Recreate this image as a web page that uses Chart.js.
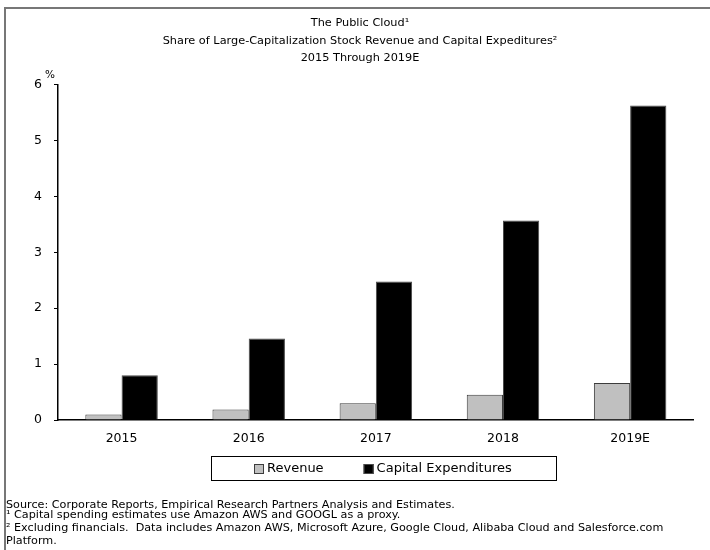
<!DOCTYPE html>
<html>
<head>
<meta charset="utf-8">
<script src="https://cdn.jsdelivr.net/npm/chart.js@4.4.1/dist/chart.umd.min.js"></script>
<style>
  html, body { margin: 0; padding: 0; background: #fff; }
  #wrap { position: relative; width: 710px; height: 550px; overflow: hidden; }
  #frame { position: absolute; left: 4px; top: 7px; right: 0; bottom: 0;
           border-top: 2px solid #777; border-left: 2px solid #777; }
  canvas { position: absolute; left: 0; top: 0; }
  .note { position: absolute; left: 6px; color: #000; line-height: 13px; white-space: nowrap;
          font: 11.2px "DejaVu Sans", sans-serif; }
</style>
</head>
<body>
<div id="wrap">
  <div id="frame"></div>
  <canvas id="chart" width="710" height="550"></canvas>
  <div class="note" style="top:498px">Source: Corporate Reports, Empirical Research Partners Analysis and Estimates.</div>
  <div class="note" style="top:508px">¹ Capital spending estimates use Amazon AWS and GOOGL as a proxy.</div>
  <div class="note" style="top:521px">² Excluding financials.&nbsp; Data includes Amazon AWS, Microsoft Azure, Google Cloud, Alibaba Cloud and Salesforce.com</div>
  <div class="note" style="top:534px">Platform.</div>
</div>
<script>
// Categories and series (percent of large-cap stock totals)
const years = ['2015', '2016', '2017', '2018', '2019E'];
const revenue = [0.10, 0.19, 0.30, 0.45, 0.66];
const capitalExpenditures = [0.80, 1.46, 2.48, 3.57, 5.63];
const seriesNames = ['Revenue', 'Capital Expenditures'];

// Heading text
const titleLines = [
  'The Public Cloud¹',
  'Share of Large-Capitalization Stock Revenue and Capital Expeditures²',
  '2015 Through 2019E'
];
const unitLabel = '%';

const FONT = '"DejaVu Sans", sans-serif';

// Draws the three-line heading and the unit label above the value axis
const headingPlugin = {
  id: 'heading',
  afterDraw(chart) {
    const ctx = chart.ctx;
    ctx.save();
    ctx.fillStyle = '#000';
    ctx.textAlign = 'center';
    ctx.textBaseline = 'middle';
    ctx.font = '11.3px ' + FONT;
    titleLines.forEach((line, i) => ctx.fillText(line, 360, 23.5 + i * 17.5));
    ctx.font = '10.5px ' + FONT;
    ctx.fillText(unitLabel, 50, 75);
    ctx.restore();
  }
};

// Boxed legend under the category axis
const boxedLegend = {
  id: 'boxedLegend',
  afterDraw(chart) {
    const ctx = chart.ctx;
    const box = { left: 211, top: 456, right: 556, bottom: 480 };
    ctx.save();
    ctx.strokeStyle = '#000';
    ctx.lineWidth = 1;
    ctx.strokeRect(box.left + 0.5, box.top + 0.5, box.right - box.left, box.bottom - box.top);
    ctx.font = '13px ' + FONT;
    ctx.textBaseline = 'middle';
    ctx.textAlign = 'left';
    const sq = 10, textGap = 3, itemGap = 40;
    const items = chart.data.datasets.map(ds => ({
      label: ds.label, fill: ds.backgroundColor, stroke: ds.borderColor,
      w: sq + textGap + ctx.measureText(ds.label).width
    }));
    const total = items.reduce((s, it) => s + it.w, 0) + itemGap * (items.length - 1);
    let x = Math.round((box.left + box.right) / 2 - total / 2) - 1;
    const cy = (box.top + box.bottom) / 2 + 1;
    items.forEach(it => {
      ctx.fillStyle = it.fill;
      ctx.fillRect(x, cy - sq / 2, sq, sq);
      ctx.strokeStyle = it.stroke;
      ctx.strokeRect(x + 0.5, cy - sq / 2 + 0.5, sq - 1, sq - 1);
      ctx.fillStyle = '#000';
      ctx.fillText(it.label, x + sq + textGap, cy);
      x += it.w + itemGap;
    });
    ctx.restore();
  }
};

new Chart(document.getElementById('chart'), {
  type: 'bar',
  data: {
    labels: years,
    datasets: [
      { label: seriesNames[0], data: revenue, backgroundColor: '#c0c0c0',
        borderColor: '#3c3c3c', borderWidth: 1 },
      { label: seriesNames[1], data: capitalExpenditures, backgroundColor: '#000000',
        borderColor: '#4a4a4a', borderWidth: 1 }
    ]
  },
  options: {
    responsive: false,
    animation: false,
    events: [],
    layout: { padding: { left: 0, right: 16.3, top: 84.7, bottom: 100 } },
    datasets: { bar: { categoryPercentage: 0.57, barPercentage: 1.0 } },
    plugins: {
      legend: { display: false },
      title: { display: false },
      tooltip: { enabled: false }
    },
    scales: {
      x: {
        grid: { display: false, drawTicks: false },
        border: { display: true, color: '#000', width: 1.5 },
        ticks: { color: '#000', padding: 11, font: { family: FONT, size: 12.5 } },
        afterFit(scale) { scale.height = 30; }
      },
      y: {
        min: 0, max: 6,
        grid: { drawOnChartArea: false, drawTicks: true, tickLength: 4, color: '#000', lineWidth: 1 },
        border: { display: true, color: '#000', width: 1.5 },
        ticks: { stepSize: 1, color: '#000', padding: 12, font: { family: FONT, size: 12.5 } },
        afterFit(scale) { scale.width = 58; }
      }
    }
  },
  plugins: [headingPlugin, boxedLegend]
});
</script>
</body>
</html>
